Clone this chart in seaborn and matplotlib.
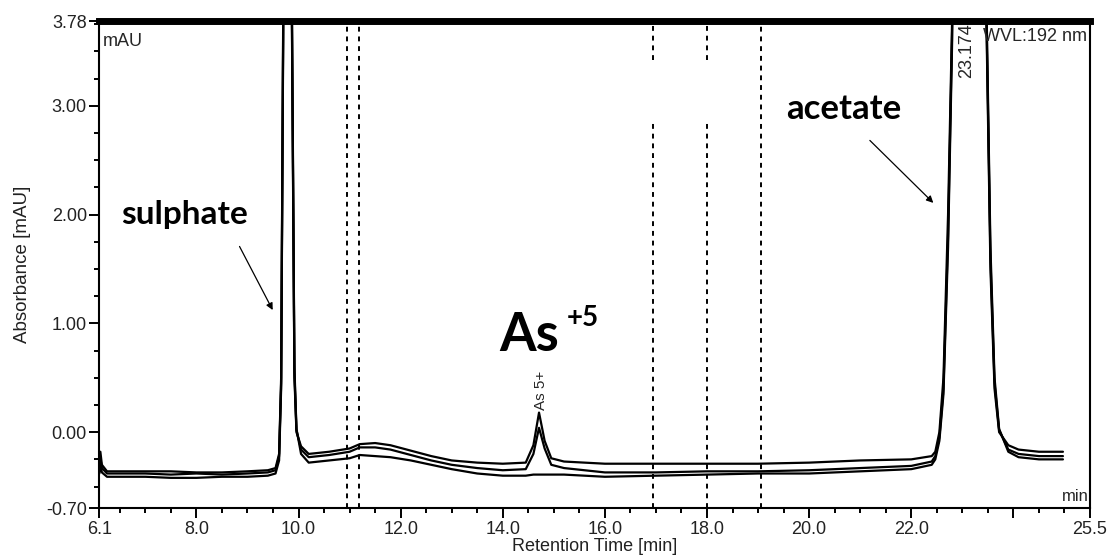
import matplotlib
matplotlib.use('Agg')
import matplotlib.pyplot as plt
from matplotlib.ticker import MultipleLocator, FixedLocator
import seaborn as sns

# Chromatogram (3 overlaid runs)
retention_time = [6.10, 6.12, 6.15, 6.25, 6.50, 7.00, 7.50, 8.00, 8.50, 9.00,
                  9.40, 9.55, 9.62, 9.66, 9.70, 9.78, 9.87, 9.92, 9.96, 10.05,
                  10.20, 10.60, 11.00, 11.20, 11.50, 11.80, 12.20, 12.60, 13.00, 13.50,
                  14.00, 14.45, 14.60, 14.71, 14.82, 14.95, 15.20, 16.00, 17.00, 18.00,
                  19.00, 20.00, 21.00, 22.00, 22.40, 22.47, 22.55, 22.63, 22.72, 22.80,
                  23.17, 23.47, 23.55, 23.63, 23.72, 23.90, 24.10, 24.50, 24.97]
run_1 = [-0.30, -0.18, -0.30, -0.36, -0.36, -0.36, -0.36, -0.37, -0.37, -0.36,
         -0.35, -0.33, -0.20, 0.50, 3.80, 40.0, 3.80, 0.50, 0.00, -0.13,
         -0.20, -0.18, -0.15, -0.11, -0.10, -0.12, -0.17, -0.22, -0.26, -0.28,
         -0.29, -0.28, -0.12, 0.18, -0.08, -0.24, -0.27, -0.29, -0.29, -0.29,
         -0.29, -0.28, -0.26, -0.25, -0.22, -0.18, 0.00, 0.50, 2.00, 3.80,
         60.0, 3.80, 1.50, 0.40, 0.00, -0.12, -0.16, -0.18, -0.18]
run_2 = [-0.34, -0.24, -0.33, -0.38, -0.38, -0.38, -0.39, -0.38, -0.39, -0.38,
         -0.37, -0.35, -0.22, 0.45, 3.70, 38.0, 3.90, 0.55, 0.02, -0.16,
         -0.23, -0.21, -0.18, -0.14, -0.14, -0.16, -0.21, -0.26, -0.30, -0.33,
         -0.35, -0.34, -0.20, 0.04, -0.15, -0.30, -0.33, -0.37, -0.37, -0.36,
         -0.36, -0.35, -0.33, -0.31, -0.27, -0.22, -0.05, 0.40, 1.80, 3.70,
         55.0, 3.90, 1.60, 0.45, 0.02, -0.16, -0.20, -0.22, -0.22]
run_3 = [-0.38, -0.30, -0.37, -0.41, -0.41, -0.41, -0.42, -0.42, -0.41, -0.41,
         -0.40, -0.38, -0.26, 0.40, 3.60, 36.0, 4.00, 0.60, 0.03, -0.20,
         -0.28, -0.26, -0.24, -0.21, -0.22, -0.23, -0.26, -0.30, -0.34, -0.38,
         -0.40, -0.40, -0.39, -0.39, -0.39, -0.39, -0.39, -0.41, -0.40, -0.39,
         -0.38, -0.38, -0.36, -0.34, -0.30, -0.25, -0.08, 0.35, 1.70, 3.60,
         50.0, 4.00, 1.70, 0.50, 0.03, -0.18, -0.23, -0.25, -0.25]

event_marks = [10.95, 11.18, 16.95, 18.00, 19.05]   # dashed integration events
broken_marks = [16.95, 18.00]

x_ticks = [6.1, 8.0, 10.0, 12.0, 14.0, 16.0, 18.0, 20.0, 22.0, 24.0, 25.5]
x_labels = ['6.1', '8.0', '10.0', '12.0', '14.0', '16.0', '18.0', '20.0', '22.0', '', '25.5']
y_ticks = [-0.70, 0.00, 1.00, 2.00, 3.00, 3.78]
y_labels = ['-0.70', '0.00', '1.00', '2.00', '3.00', '3.78']

sns.set_style('ticks')
plt.rcParams['font.family'] = ['Liberation Sans', 'DejaVu Sans']

fig = plt.figure(figsize=(11.1, 5.6), dpi=100)
ax = fig.add_axes([0.0895, 0.0923, 0.8925, 0.8702])

for run in [run_1, run_2, run_3]:
    sns.lineplot(x=retention_time, y=run, ax=ax, color='black', lw=1.6,
                 estimator=None, sort=False)

for t in event_marks:
    if t in broken_marks:
        ax.plot([t, t], [-0.70, 2.84], color='black', lw=1.4, ls=(0, (2.5, 2.5)))
        ax.plot([t, t], [3.42, 3.78], color='black', lw=1.4, ls=(0, (2.5, 2.5)))
    else:
        ax.axvline(t, color='black', lw=1.4, ls=(0, (2.5, 2.5)))

ax.set_xlim(6.1, 25.5)
ax.set_ylim(-0.70, 3.78)
ax.xaxis.set_major_locator(FixedLocator(x_ticks))
ax.set_xticklabels(x_labels)
ax.xaxis.set_minor_locator(MultipleLocator(0.5))
ax.yaxis.set_major_locator(FixedLocator(y_ticks))
ax.set_yticklabels(y_labels)
ax.yaxis.set_minor_locator(MultipleLocator(0.25))
ax.tick_params(which='major', length=7.5, width=1.4, labelsize=13, colors='black',
               labelcolor='#222222', pad=1.5)
ax.tick_params(which='minor', length=3.5, width=1.4, colors='black')

for side in ['left', 'right', 'bottom']:
    ax.spines[side].set_visible(True)
    ax.spines[side].set_linewidth(1.5)
    ax.spines[side].set_color('black')
ax.spines['top'].set_visible(True)
ax.spines['top'].set_linewidth(5)
ax.spines['top'].set_color('black')

ax.set_xlabel('Retention Time [min]', fontsize=13, color='#222222', labelpad=0)
ax.set_ylabel('Absorbance [mAU]', fontsize=13.5, color='#222222', labelpad=11)

# instrument texts
ax.text(0.003, 0.975, 'mAU', transform=ax.transAxes, fontsize=13, va='top', ha='left')
ax.text(23.40, 3.72, 'WVL:192 nm', fontsize=13, va='top', ha='left', clip_on=True)
ax.text(25.48, -0.66, 'min', fontsize=12, va='bottom', ha='right')
ax.text(23.09, 3.76, '23.174', fontsize=13, rotation=90, va='top', ha='center')
ax.text(14.75, 0.20, 'As 5+', fontsize=11, rotation=90, va='bottom', ha='center')

# annotations
bold = dict(family=['Lato', 'DejaVu Sans'], fontweight='bold', color='black')
ax.text(6.52, 2.0, 'sulphate', fontsize=24, ha='left', va='center', **bold)
ax.text(19.55, 2.97, 'acetate', fontsize=25, ha='left', va='center', **bold)
ax.text(13.93, 0.75, 'As', fontsize=38, ha='left', va='baseline', **bold)
ax.text(15.25, 1.05, '+5', fontsize=20, ha='left', va='center', **bold)
ax.annotate('', xy=(9.52, 1.10), xytext=(8.82, 1.73),
            arrowprops=dict(arrowstyle='-|>', color='black', lw=0.9, mutation_scale=10))
ax.annotate('', xy=(22.47, 2.09), xytext=(21.15, 2.70),
            arrowprops=dict(arrowstyle='-|>', color='black', lw=0.9, mutation_scale=10))

fig.savefig('out.png', dpi=100)
